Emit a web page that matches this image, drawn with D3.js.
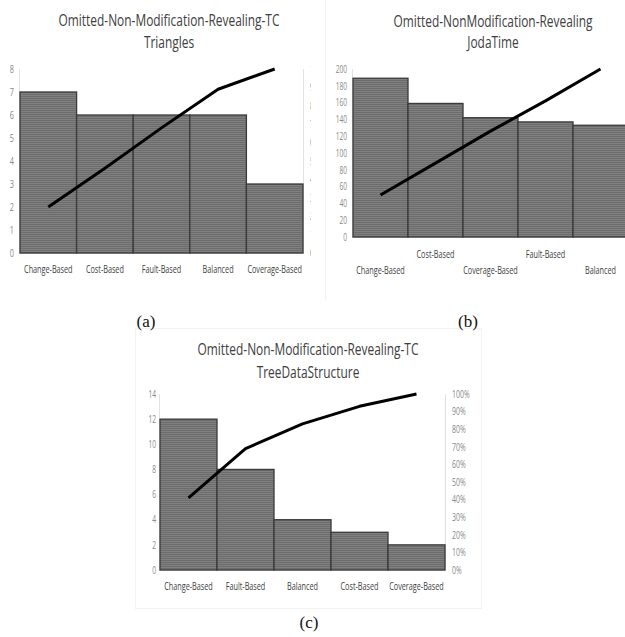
<!DOCTYPE html>
<html><head><meta charset="utf-8">
<script src="https://cdn.jsdelivr.net/npm/d3@7"></script>
<style>
html,body{margin:0;padding:0;background:#fff;}
svg{display:block;}
</style></head>
<body>
<svg id="c" width="625" height="637"></svg>
<script>
// ---- data ----
const catsA = ["Change-Based","Cost-Based","Fault-Based","Balanced","Coverage-Based"];
const valsA = [7, 6, 6, 6, 3];
const cumA  = [25, 46, 68, 89, 100];
const ticksA = [0,1,2,3,4,5,6,7,8];

const catsB = ["Change-Based","Cost-Based","Coverage-Based","Fault-Based","Balanced"];
const valsB = [189, 159, 142, 137, 133];
const cumB  = [25, 44, 63, 81, 100];
const ticksB = [0,20,40,60,80,100,120,140,160,180,200];

const catsC = ["Change-Based","Fault-Based","Balanced","Cost-Based","Coverage-Based"];
const valsC = [12, 8, 4, 3, 2];
const cumC  = [41, 69, 83, 93, 100];
const ticksC = [0,2,4,6,8,10,12,14];
const pctTicks = [0,10,20,30,40,50,60,70,80,90,100];

const svg = d3.select("#c");
const defs = svg.append("defs");
const pat = defs.append("pattern").attr("id","hatch").attr("patternUnits","userSpaceOnUse")
  .attr("width",4).attr("height",2);
pat.append("rect").attr("width",4).attr("height",2).attr("fill","#808080");
pat.append("rect").attr("width",4).attr("height",1).attr("fill","#6c6c6c");

const FONT = '"Open Sans","DejaVu Sans",sans-serif';

// simulate a condensed face: squeeze each text horizontally about its anchor
function condense(sel, f){
  sel.each(function(){
    const s = d3.select(this);
    const x = +(s.attr("x") || 0), y = +(s.attr("y") || 0);
    s.attr("x",0).attr("y",0).attr("transform","translate("+x+","+y+") scale("+f+",1)");
  });
}

function panel(o){
  const g = svg.append("g");
  if (o.clip){
    const id = "clip"+o.id;
    defs.append("clipPath").attr("id",id).append("rect")
      .attr("x",o.clip[0]).attr("y",0).attr("width",o.clip[1]-o.clip[0]).attr("height",637);
    g.attr("clip-path","url(#"+id+")");
  }
  const x = d3.scaleBand().domain(o.cats).range(o.xr).padding(0);
  const y = d3.scaleLinear().domain(o.yd).range(o.yr);
  const y2 = d3.scaleLinear().domain([0,100]).range(o.yr);

  g.append("line").attr("x1",o.xr[0]-0.5).attr("x2",o.xr[0]-0.5).attr("y1",o.yr[1]).attr("y2",o.yr[0])
    .attr("stroke","#e2e2e2");
  if (o.right){
    g.append("line").attr("x1",o.xr[1]+0.5).attr("x2",o.xr[1]+0.5).attr("y1",o.yr[1]).attr("y2",o.yr[0])
      .attr("stroke","#e2e2e2");
  }
  g.append("line").attr("x1",o.xr[0]-1).attr("x2",o.xr[1]+1).attr("y1",o.yr[0]+0.5).attr("y2",o.yr[0]+0.5)
    .attr("stroke","#d9d9d9");

  const ax = d3.axisLeft(y).tickValues(o.ticks).tickSize(0).tickPadding(o.lpad);
  const ga = g.append("g").attr("transform","translate("+o.xr[0]+",0)").call(ax);
  ga.select(".domain").remove();
  ga.selectAll("text").attr("font-family",FONT).attr("font-size",o.tfs).attr("fill","#888888");
  condense(ga.selectAll("text"), 0.66);

  if (o.right){
    const ar = d3.axisRight(y2).tickValues(pctTicks).tickSize(0).tickPadding(o.rpad).tickFormat(d=>d+"%");
    const gr = g.append("g").attr("transform","translate("+o.xr[1]+",0)").call(ar);
    gr.select(".domain").remove();
    gr.selectAll("text").attr("font-family",FONT).attr("font-size",10).attr("fill","#888888");
    condense(gr.selectAll("text"), 0.7);
  }

  g.selectAll("rect.bar").data(o.vals).join("rect").attr("class","bar")
    .attr("x",(d,i)=>x(o.cats[i])).attr("width",x.bandwidth())
    .attr("y",d=>y(d)).attr("height",d=>y(0)-y(d))
    .attr("fill","url(#hatch)").attr("stroke","#3a3a3a").attr("stroke-width",1.3);

  const line = d3.line().x((d,i)=>x(o.cats[i])+x.bandwidth()/2).y(d=>y2(d));
  g.append("path").datum(o.cum).attr("d",line).attr("fill","none")
    .attr("stroke","#000").attr("stroke-width",3).attr("stroke-linejoin","round");

  const cl = g.selectAll("text.cat").data(o.cats).join("text").attr("class","cat")
    .attr("x",d=>x(d)+x.bandwidth()/2)
    .attr("y",(d,i)=>o.catY(i))
    .attr("text-anchor","middle").attr("font-family",FONT).attr("font-size",11).attr("fill","#404040")
    .text(d=>d);
  condense(cl, 0.66);

  o.title.forEach((t,i)=>{
    const tt = svg.append("text").attr("x",o.tx).attr("y",o.ty[i]).attr("text-anchor","middle")
      .attr("font-family",FONT).attr("font-size",16).attr("fill","#404040").text(t);
    condense(tt, 0.745);
  });
  svg.append("text").attr("x",o.cap[0]).attr("y",o.cap[1]).attr("text-anchor","middle")
    .attr("font-family",'"Liberation Serif","Times New Roman",serif').attr("font-size",17).attr("fill","#111")
    .text(o.capText);
}

svg.append("line").attr("x1",325.5).attr("x2",325.5).attr("y1",0).attr("y2",300).attr("stroke","#f2f2f2");
svg.append("rect").attr("x",135.5).attr("y",328.5).attr("width",346).attr("height",280)
  .attr("fill","none").attr("stroke","#f2f2f2");

panel({id:"a", cats:catsA, vals:valsA, cum:cumA, ticks:ticksA, yd:[0,8], xr:[20,303], yr:[253,69],
  right:true, lpad:6, rpad:7, tfs:11, clip:[0,311], catY:()=>273,
  title:["Omitted-Non-Modification-Revealing-TC","Triangles"], tx:169, ty:[26,48],
  cap:[146,327], capText:"(a)"});

panel({id:"b", cats:catsB, vals:valsB, cum:cumB, ticks:ticksB, yd:[0,200], xr:[353,628], yr:[237,69],
  right:false, lpad:6, rpad:7, tfs:10, catY:i=>(i%2===1?258:274),
  title:["Omitted-NonModification-Revealing","JodaTime"], tx:493, ty:[27,48],
  cap:[468,327], capText:"(b)"});

panel({id:"c", cats:catsC, vals:valsC, cum:cumC, ticks:ticksC, yd:[0,14], xr:[160,445], yr:[570,394],
  right:true, lpad:4, rpad:7, tfs:10, catY:()=>590,
  title:["Omitted-Non-Modification-Revealing-TC","TreeDataStructure"], tx:308, ty:[355,378],
  cap:[309,628], capText:"(c)"});
</script>
</body></html>
